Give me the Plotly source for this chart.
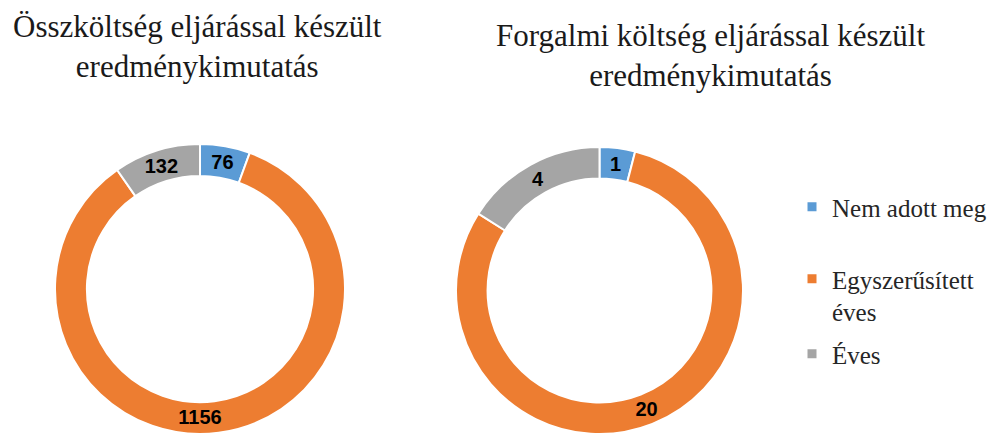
import plotly.graph_objects as go

# ---- data ----
categories = ["Nem adott meg", "Egyszerűsített éves", "Éves"]
legend_labels = ["Nem adott meg", "Egyszerűsített<br>éves", "Éves"]
left_values = [76, 1156, 132]
right_values = [1, 20, 4]
colors = ["#5B9BD5", "#ED7D31", "#A5A5A5"]
left_title = "Összköltség eljárással készült<br>eredménykimutatás"
right_title = "Forgalmi költség eljárással készült<br>eredménykimutatás"

# page body has an 8px margin, so the figure is drawn 8px smaller and all
# layout positions below are in figure pixels (page pixels - 8)
W, H = 990, 426

def pie(values, dom_x, dom_y):
    return go.Pie(
        labels=categories,
        values=values,
        text=[str(v) for v in values],
        textinfo="text",
        textposition="inside",
        insidetextorientation="horizontal",
        textfont=dict(family="Liberation Sans", size=20, color="#000000", weight="bold"),
        hole=0.78,
        sort=False,
        direction="clockwise",
        rotation=0,
        marker=dict(colors=colors, line=dict(color="white", width=2)),
        domain=dict(x=dom_x, y=dom_y),
        showlegend=False,
        hoverinfo="label+value",
    )

fig = go.Figure()
fig.add_trace(pie(left_values, [47 / W, 337 / W], [0, 290 / H]))
fig.add_trace(pie(right_values, [448 / W, 735 / W], [0, 287 / H]))

# legend entries (square markers) drawn from the same categories/colors
for i, (lab, col) in enumerate(zip(legend_labels, colors)):
    fig.add_trace(go.Scatter(
        x=[None], y=[None], mode="markers", name=lab,
        marker=dict(symbol="square", size=9, color=col),
        legend="legend" if i == 0 else "legend2",
        legendgroup=f"g{i}",
        hoverinfo="skip",
    ))

legend_font = dict(family="Liberation Serif", size=25, color="#262626")
title_font = dict(family="Liberation Serif", size=31, color="#1a1a1a")
fig.update_layout(
    width=W, height=H,
    margin=dict(l=0, r=0, t=0, b=0),
    paper_bgcolor="white", plot_bgcolor="white",
    xaxis=dict(visible=False), yaxis=dict(visible=False),
    uniformtext=dict(minsize=20, mode="show"),
    legend=dict(x=784 / W, y=1 - 199 / H, xanchor="left", yanchor="middle",
                font=legend_font, bgcolor="rgba(0,0,0,0)", valign="top"),
    legend2=dict(x=784 / W, y=1 - 248 / H, xanchor="left", yanchor="top",
                 font=legend_font, bgcolor="rgba(0,0,0,0)", valign="top",
                 tracegroupgap=7),
    annotations=[
        dict(text=left_title, x=189 / W, y=1 - (-1) / H, xref="paper", yref="paper",
             xanchor="center", yanchor="top", showarrow=False, align="center",
             font=title_font),
        dict(text=right_title, x=702 / W, y=1 - 8 / H, xref="paper", yref="paper",
             xanchor="center", yanchor="top", showarrow=False, align="center",
             font=title_font),
    ],
)

fig.write_html("out.html")
